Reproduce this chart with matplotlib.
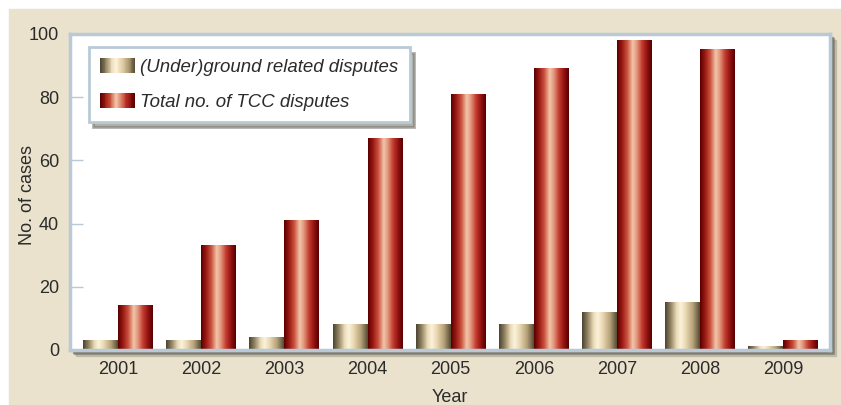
import matplotlib.pyplot as plt
import numpy as np
from matplotlib.colors import LinearSegmentedColormap
from matplotlib.patches import Rectangle
from matplotlib.legend_handler import HandlerBase

plt.rcParams['font.family'] = ['Liberation Sans', 'DejaVu Sans']

# data
years = ['2001', '2002', '2003', '2004', '2005', '2006', '2007', '2008', '2009']
ground = [3, 3, 4, 8, 8, 8, 12, 15, 1]
total = [14, 33, 41, 67, 81, 89, 98, 95, 3]
labels = ['(Under)ground related disputes', 'Total no. of TCC disputes']

txt = '#2b2b2b'
bg = '#eae2cc'
edge = '#b9cad6'

cm_ground = LinearSegmentedColormap.from_list('g', [
    (0.0, '#4a4230'), (0.15, '#8c7e5e'), (0.33, '#eadbb8'), (0.45, '#fcf3dc'),
    (0.6, '#e8d6b0'), (0.8, '#b6a27a'), (1.0, '#554a32')])
cm_total = LinearSegmentedColormap.from_list('t', [
    (0.0, '#580000'), (0.14, '#981812'), (0.3, '#cc5540'), (0.45, '#f2c6aa'),
    (0.56, '#e39a80'), (0.72, '#c23a2c'), (0.88, '#8a0e0e'), (1.0, '#560000')])
grad = np.linspace(0, 1, 256).reshape(1, -1)

fig = plt.figure(figsize=(8.41, 4.05), dpi=100)
W, H = 841, 405
fig.patches.append(Rectangle((9 / W, 0), 1, 1 - 9 / H, transform=fig.transFigure,
                             color=bg, zorder=-10))

L, R, T, B = 70, 830, 34, 350
# soft shadow behind plot panel
for off, a in [(6, 0.25), (4, 0.45), (3, 0.5)]:
    fig.patches.append(Rectangle(((L + off) / W, 1 - (B + off) / H), (R - L) / W, (B - T) / H,
                                 transform=fig.transFigure, color='#6f6f66', alpha=a, zorder=-5))

ax = fig.add_axes([L / W, 1 - B / H, (R - L) / W, (B - T) / H])
ax.set_facecolor('white')

x = np.arange(len(years))
w = 0.42
for xi, g, t in zip(x, ground, total):
    ax.imshow(grad, extent=[xi - w, xi, 0, g], aspect='auto', cmap=cm_ground,
              interpolation='bilinear', zorder=2)
    ax.imshow(grad, extent=[xi, xi + w, 0, t], aspect='auto', cmap=cm_total,
              interpolation='bilinear', zorder=2)

ax.set_xlim(-0.578, 8.56)
ax.set_ylim(0, 100)
ax.set_xticks(x)
ax.set_xticklabels(years)
ax.set_yticks([0, 20, 40, 60, 80, 100])
ax.tick_params(axis='x', length=0, pad=8, labelsize=13, labelcolor=txt)
ax.tick_params(axis='y', direction='in', length=9, width=1, color=edge, pad=8,
               labelsize=13, labelcolor=txt)
for s in ax.spines.values():
    s.set_color(edge)
    s.set_linewidth(2.5)
ax.set_xlabel('Year', fontsize=13, color=txt, labelpad=8)
ax.set_ylabel('No. of cases', fontsize=13, color=txt)
ax.yaxis.set_label_coords(-0.045, 0.49)


class GradHandler(HandlerBase):
    def __init__(self, cmap):
        super().__init__()
        self.cmap = cmap

    def create_artists(self, legend, orig_handle, xdescent, ydescent, width, height,
                       fontsize, trans):
        n = 40
        arts = []
        for i in range(n):
            arts.append(Rectangle((-xdescent + width * i / n, -ydescent), width / n * 1.05, height,
                                  facecolor=self.cmap((i + 0.5) / n), edgecolor='none',
                                  transform=trans))
        return arts


h1 = Rectangle((0, 0), 1, 1)
h2 = Rectangle((0, 0), 1, 1)
leg = ax.legend([h1, h2], labels, loc='upper left', bbox_to_anchor=(0.025, 0.959),
                borderaxespad=0, fancybox=False, prop={'style': 'italic', 'size': 13.4},
                handlelength=1.87, handleheight=0.86, labelspacing=0.9, borderpad=0.6,
                handletextpad=0.28, handler_map={h1: GradHandler(cm_ground), h2: GradHandler(cm_total)},
                shadow={'color': '#6f6f66', 'alpha': 0.55, 'ox': 3, 'oy': -4}, framealpha=1)
leg.get_frame().set_edgecolor(edge)
leg.get_frame().set_linewidth(2)
for t in leg.get_texts():
    t.set_color(txt)

fig.savefig('out.png', dpi=100)
